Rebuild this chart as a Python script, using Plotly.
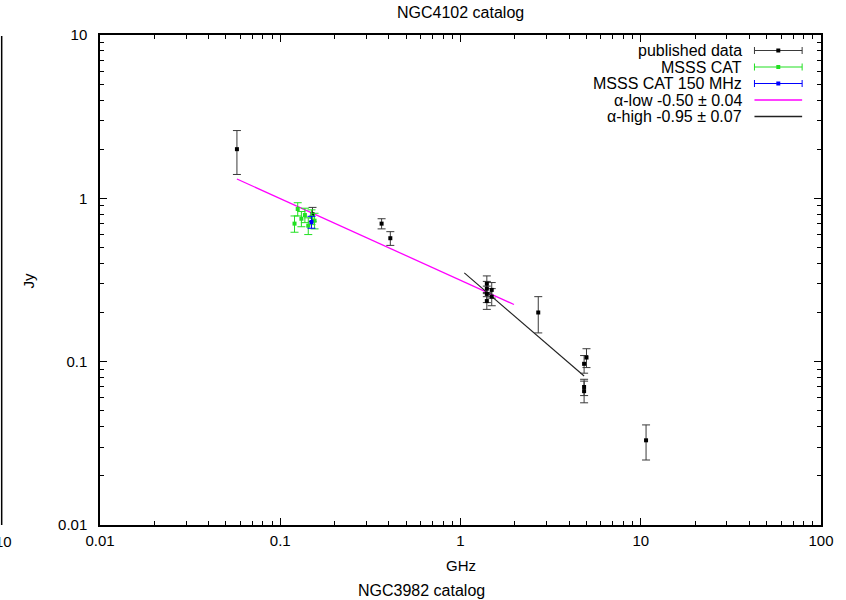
import numpy as np
import plotly.graph_objects as go

# ---- data -------------------------------------------------------------
# published flux densities (GHz, Jy, 1-sigma)
pub_freq = [0.0575, 0.151, 0.365, 0.408, 1.40, 1.40, 1.49, 1.40, 1.49, 1.40,
            2.70, 4.85, 5.00, 4.85, 4.85, 10.7]
pub_flux = [2.00, 0.80, 0.70, 0.57, 0.30, 0.28, 0.275, 0.26, 0.25, 0.235,
            0.20, 0.097, 0.106, 0.070, 0.066, 0.033]
pub_err = [0.60, 0.08, 0.05, 0.055, 0.035, 0.03, 0.03, 0.03, 0.03, 0.026,
           0.05, 0.012, 0.014, 0.008, 0.010, 0.008]

# MSSS catalogue sub-bands
msss_freq = [0.120, 0.125, 0.131, 0.137, 0.143, 0.149, 0.155]
msss_flux = [0.70, 0.86, 0.75, 0.79, 0.68, 0.77, 0.73]
msss_err = [0.08, 0.08, 0.08, 0.08, 0.08, 0.08, 0.08]

# MSSS 150 MHz band-averaged value
m150_freq = [0.149]
m150_flux = [0.716]
m150_err = [0.06]

# power-law fits: S = norm * nu**alpha  (norm at 1 GHz), fitted range in GHz
fit_low = dict(alpha=-0.50, err=0.04, norm=0.315, nu=[0.0575, 1.98])
fit_high = dict(alpha=-0.95, err=0.07, norm=0.366, nu=[1.05, 4.85])

legend_labels = ["published data", "MSSS CAT", "MSSS CAT 150 MHz",
                 "\u03b1-low -0.50 \u00b1 0.04", "\u03b1-high -0.95 \u00b1 0.07"]

x_major = [0.01, 0.1, 1, 10, 100]
y_major = [0.01, 0.1, 1, 10]

# ---- layout constants -------------------------------------------------
W, H = 846, 600
ML, MR, MT, MB = 100, 20, 35, 75
PW, PH = W - ML - MR, H - MT - MB
FONT = "Liberation Sans, Arial, Helvetica, sans-serif"

BLACK = "#000000"
BAR_BLACK = "#3a3a3a"
GREEN = "#22e022"
BLUE = "#0000ff"
MAGENTA = "#ff00ff"
FITBLACK = "#222222"


def px(x):
    return (x - ML) / PW


def py(y):
    return (H - MB - y) / PH


def minor_vals(lo, hi):
    vals = []
    for e in range(lo, hi):
        for m in range(2, 10):
            vals.append(m * 10.0 ** e)
    return vals


def label(x, y, text, size=15, xanchor="center", angle=0):
    return dict(x=px(x), y=py(y), xref="paper", yref="paper", text=text,
                showarrow=False, xanchor=xanchor, yanchor="middle",
                textangle=angle,
                font=dict(family=FONT, size=size, color="black"))


fig = go.Figure()


def add_points(freq, flux, err, color, bar_color):
    fig.add_trace(go.Scatter(
        x=freq, y=flux, mode="markers",
        marker=dict(symbol="square", size=4, color=color),
        error_y=dict(type="data", array=err, visible=True,
                     color=bar_color, thickness=1, width=4),
        showlegend=False, hoverinfo="x+y"))


def add_fit(fit, color, width):
    nu = np.array(fit["nu"])
    s = fit["norm"] * nu ** fit["alpha"]
    fig.add_trace(go.Scatter(x=nu, y=s, mode="lines",
                             line=dict(color=color, width=width),
                             showlegend=False, hoverinfo="skip"))


add_fit(fit_low, MAGENTA, 1.3)
add_fit(fit_high, FITBLACK, 1.1)
add_points(pub_freq, pub_flux, pub_err, BLACK, BAR_BLACK)
add_points(msss_freq, msss_flux, msss_err, GREEN, GREEN)
add_points(m150_freq, m150_flux, m150_err, BLUE, BLUE)

axis_common = dict(
    type="log", showgrid=False, zeroline=False,
    showline=True, linecolor="black", linewidth=1.5, mirror="allticks",
    ticks="inside", ticklen=7, tickwidth=1, tickcolor="black",
    tickfont=dict(family=FONT, size=15, color="black"),
)

fig.update_xaxes(range=[-2, 2], tickvals=x_major,
                 ticktext=["0.01", "0.1", "1", "10", "100"],
                 ticklabelstandoff=1,
                 minor=dict(tickvals=minor_vals(-2, 2), ticks="inside",
                            ticklen=4, tickcolor="black", tickwidth=1),
                 **axis_common)
fig.update_yaxes(range=[-2, 1], tickvals=y_major,
                 ticktext=["0.01", "0.1", "1", "10"],
                 ticklabelstandoff=8,
                 minor=dict(tickvals=minor_vals(-2, 1), ticks="inside",
                            ticklen=4, tickcolor="black", tickwidth=1),
                 **axis_common)

shapes = []
annotations = []

# legend: right-aligned labels with sample glyphs to their right
rows = [50.5, 67, 83.5, 100, 116.5]
text_right = 748
s0, s1 = 759, 807
sc = (s0 + s1) / 2
styles = [(BLACK, BAR_BLACK, True), (GREEN, GREEN, True), (BLUE, BLUE, True),
          (MAGENTA, MAGENTA, False), (FITBLACK, FITBLACK, False)]
for text, yrow, (mcol, lcol, bars) in zip(legend_labels, rows, styles):
    annotations.append(label(text_right, yrow, text, size=16, xanchor="right"))
    shapes.append(dict(type="line", xref="paper", yref="paper",
                       x0=px(s0), x1=px(s1), y0=py(yrow), y1=py(yrow),
                       line=dict(color=lcol, width=1.2 if bars else 1.3)))
    if bars:
        for xe in (s0, s1):
            shapes.append(dict(type="line", xref="paper", yref="paper",
                               x0=px(xe), x1=px(xe),
                               y0=py(yrow - 3.5), y1=py(yrow + 3.5),
                               line=dict(color=lcol, width=1)))
        shapes.append(dict(type="rect", xref="paper", yref="paper",
                           x0=px(sc - 2), x1=px(sc + 2),
                           y0=py(yrow + 2), y1=py(yrow - 2),
                           fillcolor=mcol, line=dict(width=0)))

# axis titles
annotations.append(label(463, 565, "GHz"))
annotations.append(label(28, 280, "Jy", angle=-90))

# panel title and neighbouring panel pieces
annotations.append(label(463, 12, "NGC4102 catalog", size=16))
annotations.append(label(424, 590, "NGC3982 catalog", size=16))
annotations.append(label(13, 541, "10", xanchor="right"))
shapes.append(dict(type="line", xref="paper", yref="paper",
                   x0=px(1), x1=px(1), y0=py(36), y1=py(525),
                   line=dict(color="black", width=1.5)))

fig.update_layout(
    width=W, height=H,
    margin=dict(l=ML, r=MR, t=MT, b=MB, pad=0),
    paper_bgcolor="white", plot_bgcolor="white",
    shapes=shapes, annotations=annotations,
    showlegend=False,
)

fig.write_html("out.html")
